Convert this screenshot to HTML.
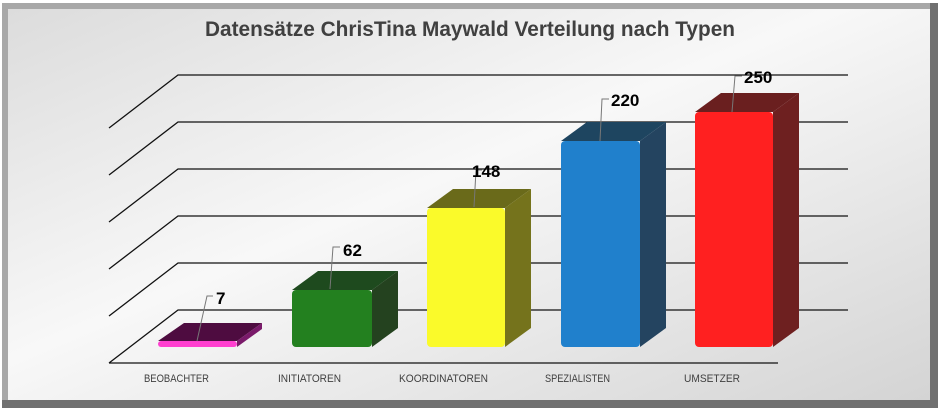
<!DOCTYPE html><html><head><meta charset="utf-8"><style>
body{margin:0;width:938px;height:410px;overflow:hidden;background:#fff}
</style></head><body>
<svg width="938" height="410" xmlns="http://www.w3.org/2000/svg" font-family="Liberation Sans, sans-serif">
<defs>
<linearGradient id="bg" x1="0" y1="0" x2="1" y2="1"><stop offset="0" stop-color="#dcdcdc"/><stop offset="0.45" stop-color="#f8f8f8"/><stop offset="1" stop-color="#d4d4d4"/></linearGradient>
</defs>
<rect x="0" y="0" width="938" height="410" fill="#fff"/>
<rect x="2" y="3" width="936" height="405" fill="#707070"/>
<rect x="2" y="3" width="928" height="397" fill="#a8a8a8"/>
<rect x="8" y="9" width="922" height="391" fill="url(#bg)"/>
<text x="205" y="36" font-size="21" font-weight="bold" fill="#404040" textLength="530" lengthAdjust="spacingAndGlyphs">Datensätze ChrisTina Maywald Verteilung nach Typen</text>
<g stroke="#111" stroke-width="1.3" fill="none">
<path d="M109 128L178 75H848M109 175L178 122H848M109 222L178 169H848M109 269L178 216H848M109 316L178 263H848M109 363L178 310H848M109 363H778"/>
</g>
<g>
<polygon points="158,341 184,323 262,323 237,341" fill="#4e0c40"/>
<polygon points="237,341 262,323 262,329 237,347" fill="#7a1a6a"/>
<rect x="158" y="341" width="79" height="6" rx="3" fill="#ff3fd0"/>

<polygon points="292,290 318,271 398,271 372,290" fill="#1e4a1e"/>
<polygon points="372,290 398,271 398,328 372,347" fill="#24421f"/>
<rect x="292" y="290" width="80" height="57" rx="4" fill="#23801f"/>

<polygon points="427,208 453,189 531,189 505,208" fill="#6a6a1a"/>
<polygon points="505,208 531,189 531,328 505,347" fill="#75731c"/>
<rect x="427" y="208" width="78" height="139" rx="4" fill="#fafa2a"/>

<polygon points="561,141 587,122 666,122 640,141" fill="#1e4560"/>
<polygon points="640,141 666,122 666,328 640,347" fill="#244460"/>
<rect x="561" y="141" width="79" height="206" rx="4" fill="#2080cc"/>

<polygon points="695,112 721,93 799,93 773,112" fill="#6a1f1f"/>
<polygon points="773,112 799,93 799,328 773,347" fill="#6e2020"/>
<rect x="695" y="112" width="78" height="235" rx="4" fill="#ff2020"/>
</g>
<g stroke="#777" stroke-width="1" fill="none">
<path d="M197 341L207 296H213M330 289L333 247H340M474 207L476 170H482M600 141L602 99H609M732 112L735 76H742"/>
</g>
<g font-size="17" font-weight="bold" fill="#000">
<text x="216" y="304">7</text>
<text x="343" y="256">62</text>
<text x="472" y="177">148</text>
<text x="611" y="106">220</text>
<text x="744" y="83">250</text>
</g>
<g font-size="11" fill="#404040" lengthAdjust="spacingAndGlyphs">
<text x="144" y="382" textLength="65" lengthAdjust="spacingAndGlyphs">BEOBACHTER</text>
<text x="278" y="382" textLength="63" lengthAdjust="spacingAndGlyphs">INITIATOREN</text>
<text x="399" y="382" textLength="89" lengthAdjust="spacingAndGlyphs">KOORDINATOREN</text>
<text x="545" y="382" textLength="65" lengthAdjust="spacingAndGlyphs">SPEZIALISTEN</text>
<text x="684" y="382" textLength="56" lengthAdjust="spacingAndGlyphs">UMSETZER</text>
</g>
</svg>
</body></html>
